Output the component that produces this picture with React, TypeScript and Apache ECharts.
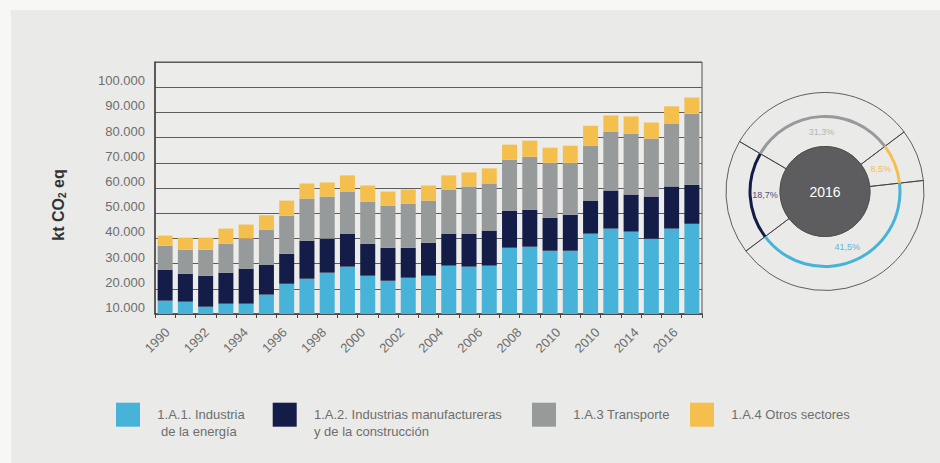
import React, { useEffect, useRef } from 'react';
import * as echarts from 'echarts';

const years = ['1990', '1991', '1992', '1993', '1994', '1995', '1996', '1997', '1998', '1999', '2000', '2001', '2002', '2003', '2004', '2005', '2006', '2007', '2008', '2009', '2010', '2011', '2012', '2013', '2014', '2015', '2016'];

// x tick labels as printed in the original (every second year)
const xTickLabels = ['1990', '1992', '1994', '1996', '1998', '2000', '2002', '2004', '2006', '2008', '2010', '2010', '2014', '2016'];

// y tick labels as printed in the original (one per gridline from the bottom)
const yTickLabels = ['10.000', '20.000', '30.000', '40.000', '50.000', '60.000', '70.000', '80.000', '90.000', '100.000', ''];

const energia = [5300, 4900, 2900, 4100, 4100, 7700, 12000, 14000, 16400, 18800, 15200, 13200, 14400, 15200, 19200, 18800, 19200, 26300, 26700, 25100, 25100, 31900, 33900, 32700, 29900, 33900, 35800];
const manufactura = [12300, 11100, 12300, 12300, 13900, 11900, 11900, 15100, 13500, 13100, 12700, 13100, 11900, 13100, 12700, 13100, 13900, 14700, 14700, 13100, 14300, 13100, 15100, 14700, 16700, 16700, 15500];
const transporte = [9500, 9500, 10300, 11500, 11900, 13900, 15100, 16700, 16700, 16700, 16700, 16700, 17500, 16700, 17500, 18700, 18700, 20200, 21000, 21800, 20600, 21800, 23400, 24200, 23000, 25000, 28200];
const otros = [4000, 4800, 4800, 6000, 5600, 5700, 6000, 6000, 5600, 6400, 6400, 5600, 5600, 6000, 5600, 5600, 6000, 6000, 6400, 6000, 6800, 7900, 6400, 6800, 6400, 6800, 6400];

const seriesNames = [
  '1.A.1. Industria de la energía',
  '1.A.2. Industrias manufactureras y de la construcción',
  '1.A.3 Transporte',
  '1.A.4 Otros sectores',
];
const legendLabels = [
  '1.A.1. Industria\n de la energía',
  '1.A.2. Industrias manufactureras\ny de la construcción',
  '1.A.3 Transporte',
  '1.A.4 Otros sectores',
];
const colors = ['#48b3d8', '#141c48', '#979a9b', '#f5bf4e'];

const donutYear = '2016';
const donutShares = [41.5, 18.7, 31.3, 8.5];
const donutLabels = ['41,5%', '18,7%', '31,3%', '8,5%'];
const donutLabelColors = ['#5ab8dc', '#4b5180', '#b5b6b6', '#f5c04f'];

const FONT = "'Liberation Sans', Arial, Helvetica, sans-serif";
const TEXT_GRAY = '#6e6e6e';
const LINE_DARK = '#505050';

export default function App() {
  const ref = useRef<HTMLDivElement>(null);

  useEffect(() => {
    if (!ref.current) return;
    const chart = echarts.init(ref.current, undefined, { renderer: 'svg' });

    const valueSeries = [energia, manufactura, transporte, otros];
    const barSeries = valueSeries.map((vals, i) => ({
      name: seriesNames[i],
      type: 'bar',
      stack: 'total',
      xAxisIndex: 0,
      yAxisIndex: 0,
      barWidth: 15,
      data: vals,
      itemStyle: { color: colors[i] },
      silent: true,
    }));

    const donutCenter = [825, 191.5];
    const startAngle = 6.4;

    const legendX = [116, 272.7, 532, 690];
    const legendGraphics: any[] = [];
    legendLabels.forEach((lab, i) => {
      legendGraphics.push({
        type: 'rect',
        shape: { x: legendX[i], y: 402.7, width: 24, height: 24 },
        style: { fill: colors[i] },
      });
      legendGraphics.push({
        type: 'text',
        x: legendX[i] + 41.3,
        y: 406,
        style: {
          text: lab,
          fill: TEXT_GRAY,
          fontSize: 13,
          fontFamily: FONT,
          lineHeight: 17,
          verticalAlign: 'top',
        },
      });
    });

    const option: any = {
      animation: false,
      backgroundColor: '#eaeae8',
      textStyle: { fontFamily: FONT },
      grid: [
        {
          left: 155,
          right: 238,
          top: 62,
          bottom: 149,
          show: true,
          borderColor: LINE_DARK,
          borderWidth: 1,
          backgroundColor: '#ececea',
        },
        { left: 167.5, width: 508, top: 313, height: 1, show: false },
      ],
      xAxis: [
        {
          type: 'category',
          gridIndex: 0,
          data: years,
          axisLine: { lineStyle: { color: '#444', width: 1.5 } },
          axisTick: { show: true, interval: 0, length: 4, lineStyle: { color: '#444' } },
          axisLabel: { show: false },
        },
        {
          type: 'category',
          gridIndex: 1,
          data: xTickLabels,
          boundaryGap: false,
          axisLine: { show: false },
          axisTick: { show: false },
          axisLabel: {
            interval: 0,
            rotate: 45,
            margin: 16,
            fontSize: 13,
            color: TEXT_GRAY,
            fontFamily: FONT,
          },
        },
      ],
      yAxis: [
        {
          type: 'value',
          gridIndex: 0,
          min: 0,
          max: 100000,
          interval: 10000,
          axisLine: { show: true, lineStyle: { color: '#444', width: 1.5 } },
          axisTick: { show: false },
          splitLine: { show: true, lineStyle: { color: '#5c5c5c', width: 1 } },
          axisLabel: {
            formatter: (v: number) => yTickLabels[Math.round(v / 10000)] ?? '',
            verticalAlign: 'bottom',
            margin: 10,
            fontSize: 13,
            color: TEXT_GRAY,
            fontFamily: FONT,
          },
        },
        { type: 'value', gridIndex: 1, show: false },
      ],
      series: [
        ...barSeries,
        {
          type: 'pie',
          name: 'divisiones',
          center: donutCenter,
          radius: [45, 99],
          startAngle,
          clockwise: true,
          silent: true,
          avoidLabelOverlap: false,
          label: { show: false },
          labelLine: { show: false },
          data: donutShares.map((v, i) => ({ value: v, name: seriesNames[i] })),
          itemStyle: { color: 'rgba(0,0,0,0)', borderColor: '#3a3a3a', borderWidth: 0.8 },
          z: 3,
        },
        {
          type: 'pie',
          name: 'anillo',
          center: donutCenter,
          radius: [73.5, 76.5],
          startAngle,
          clockwise: true,
          silent: true,
          avoidLabelOverlap: false,
          label: { show: false },
          labelLine: { show: false },
          data: donutShares.map((v, i) => ({ value: v, name: seriesNames[i], itemStyle: { color: colors[i] } })),
          itemStyle: { borderWidth: 0 },
          z: 4,
        },
        {
          type: 'pie',
          name: 'etiquetas',
          center: donutCenter,
          radius: [45, 69],
          startAngle,
          clockwise: true,
          silent: true,
          avoidLabelOverlap: false,
          labelLine: { show: false },
          data: donutShares.map((v, i) => ({
            value: v,
            name: seriesNames[i],
            label: { color: donutLabelColors[i] },
          })),
          itemStyle: { color: 'rgba(0,0,0,0)', borderWidth: 0 },
          label: {
            show: true,
            position: 'inside',
            rotate: 0,
            fontSize: 9,
            fontFamily: FONT,
            formatter: (p: any) => donutLabels[p.dataIndex],
          },
          z: 5,
        },
        {
          type: 'pie',
          name: 'centro',
          center: donutCenter,
          radius: [0, 45],
          silent: true,
          labelLine: { show: false },
          data: [{ value: 1, name: donutYear }],
          itemStyle: { color: '#5d5d5f', borderColor: '#4a4a4a', borderWidth: 0.8 },
          label: {
            show: true,
            position: 'center',
            formatter: donutYear,
            color: '#ffffff',
            fontSize: 14,
            fontFamily: FONT,
          },
          z: 6,
        },
      ],
      graphic: [
        { type: 'rect', shape: { x: 0, y: 0, width: 940, height: 10 }, style: { fill: '#f7f7f5' }, silent: true },
        { type: 'rect', shape: { x: 0, y: 0, width: 11, height: 463 }, style: { fill: '#f7f7f5' }, silent: true },
        {
          type: 'text',
          x: 58,
          y: 205,
          rotation: Math.PI / 2,
          silent: true,
          style: {
            text: '{a|kt CO}{b|2}{a| eq}',
            align: 'center',
            verticalAlign: 'middle',
            rich: {
              a: { fontSize: 16, fontWeight: 'bold', fill: '#333', fontFamily: FONT },
              b: { fontSize: 10, fontWeight: 'bold', fill: '#333', fontFamily: FONT, padding: [9, 0, 0, 0] },
            },
          },
        },
        ...legendGraphics,
      ],
    };

    chart.setOption(option);
    return () => {
      chart.dispose();
    };
  }, []);

  return (
    <div
      ref={ref}
      style={{ position: 'fixed', left: 0, top: 0, width: 940, height: 463 }}
    />
  );
}
